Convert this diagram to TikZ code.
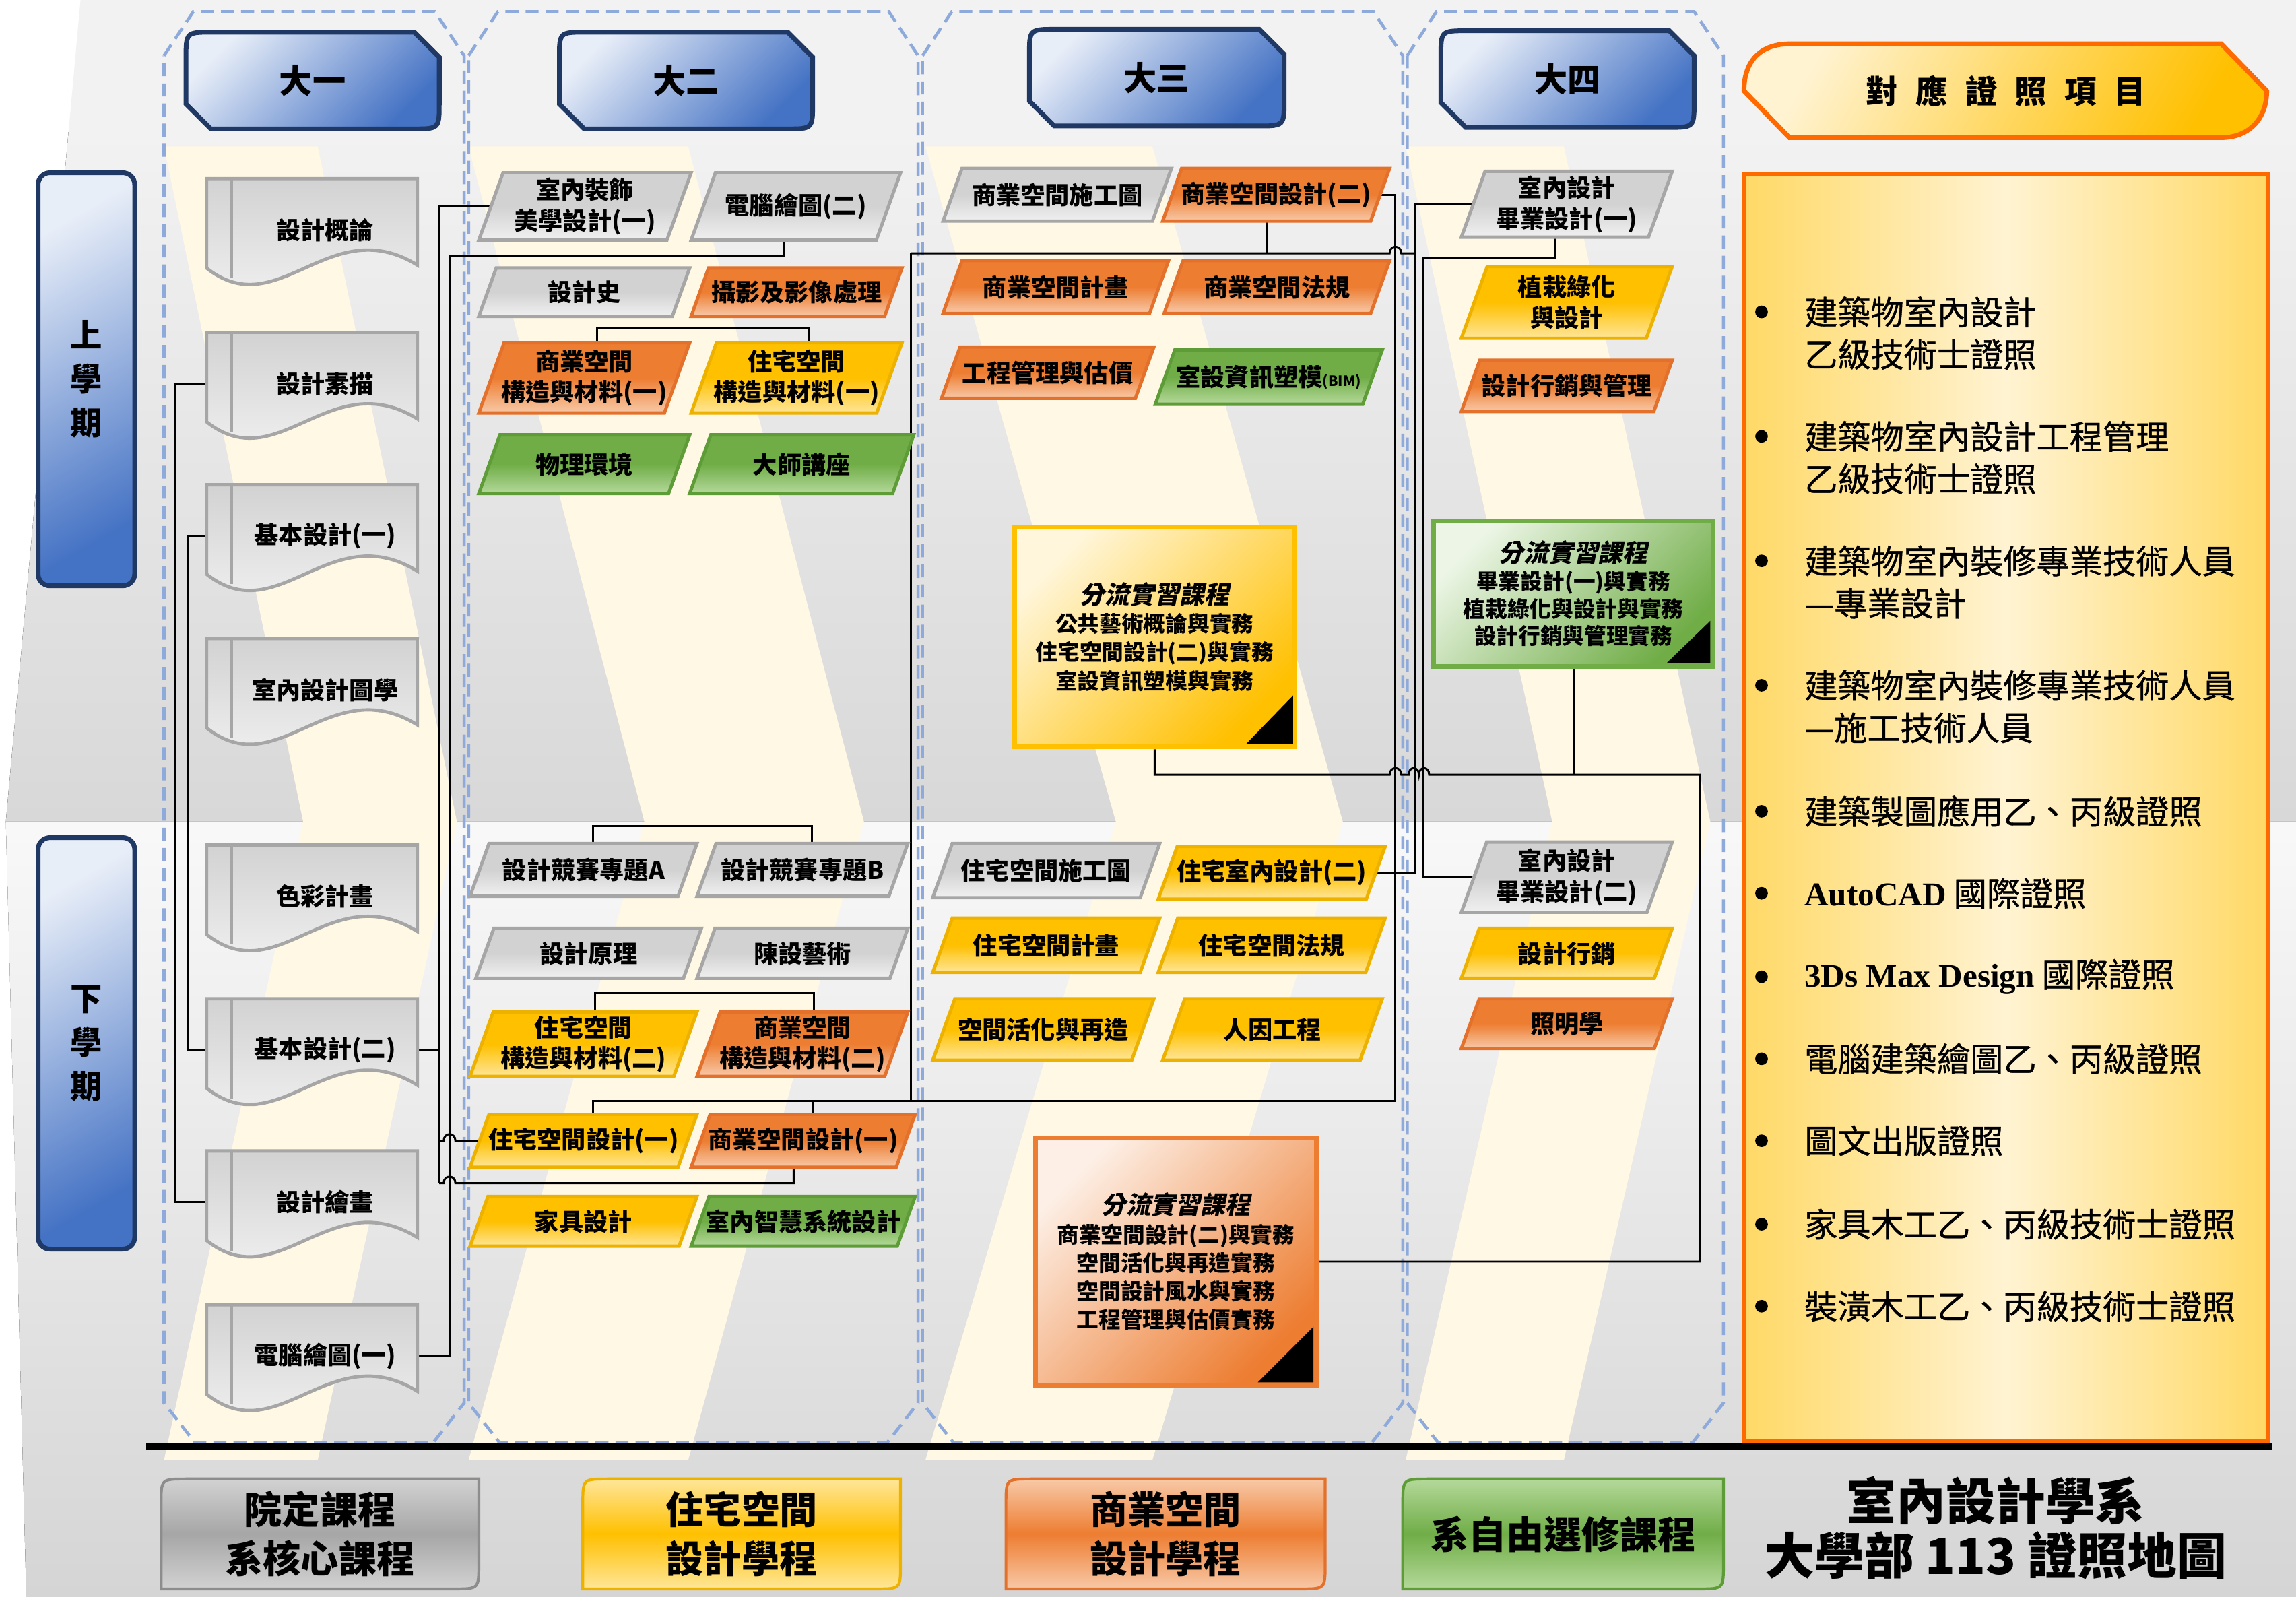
\documentclass[tikz,border=0pt]{standalone}
\usepackage{fontspec}
\setmainfont{Noto Sans CJK TC}
\newfontfamily\cjkit[FakeSlant=0.2]{Noto Sans CJK TC}
\newfontfamily\certfont[FakeBold=0.8]{Noto Sans CJK TC}
\newfontfamily\lser{Liberation Serif}
\usetikzlibrary{calc}
\pgfdeclarelayer{bgl}
\pgfdeclarelayer{conl}
\pgfsetlayers{bgl,conl,main}
\def\U{0.021741cm}
\definecolor{hblue}{HTML}{4472C4}
\definecolor{hlight}{HTML}{E8EEF8}
\definecolor{hborder}{HTML}{1F3864}
\definecolor{dashc}{HTML}{8EAADB}
\definecolor{gbase}{HTML}{D2D2D2}
\definecolor{glight}{HTML}{F0F0F0}
\definecolor{gborder}{HTML}{A6A6A6}
\definecolor{obase}{HTML}{ED7D31}
\definecolor{olight}{HTML}{F8C9A8}
\definecolor{oborder}{HTML}{E4712B}
\definecolor{ybase}{HTML}{FFC000}
\definecolor{ylight}{HTML}{FFE699}
\definecolor{yborder}{HTML}{EDB200}
\definecolor{grbase}{HTML}{70AD47}
\definecolor{grlight}{HTML}{B4D99A}
\definecolor{grborder}{HTML}{5E9C38}
\definecolor{pale}{HTML}{FFF8E4}
\definecolor{bgg}{HTML}{F2F2F2}
\definecolor{bgdark}{HTML}{D8D8D8}
\definecolor{certor}{HTML}{FF6A00}
\definecolor{panely}{HTML}{FFD966}
\definecolor{panell}{HTML}{FFF3D2}

\newcommand\pbox[7]{%
  \pgfmathsetmacro\pslant{0.36*(#6-#5)}%
  \path[#2] (#3,#6) -- ({#3+\pslant},#5) -- (#4,#5) -- ({#4-\pslant},#6) -- cycle;
  \node[btext, minimum width={(#4-#3-\pslant)*\U}, minimum height={(#6-#5)*\U}] (#1) at ({(#3+#4)/2},{(#5+#6)/2}) {#7};
  \coordinate (#1-t) at ({(#3+#4+\pslant)/2},#5);
  \coordinate (#1-b) at ({(#3+#4-\pslant)/2},#6);
}
\newcommand\docbox[3]{%
  \path[dbox] (141,#2) -- (285,#2) -- (285,{#2+59}) .. controls (225,{#2+22}) and (190,{#2+100}) .. (141,{#2+61}) -- cycle;
  \draw[gborder, line width=1.4pt] (158,#2) -- (158,{#2+68});
  \node[btext, minimum width={126*\U}, minimum height={40*\U}] (#1) at (222,{#2+35}) {#3};
}
\newcommand\hdr[6]{%
  \path[hstyle] (#2,{#3+18}) .. controls (#2,#3) .. ({#2+18},#3) -- ({#4-17},#3) -- (#4,{#3+17}) -- (#4,{#5-18}) .. controls (#4,#5) .. ({#4-18},#5) -- ({#2+17},#5) -- (#2,{#5-17}) -- cycle;
  \node[htext] (#1) at ({(#2+#4)/2},{(#3+#5)/2}) {#6};
}
\newcommand\lgd[5]{%
  \path[#4] (#2,1027) .. controls (#2,1010) .. ({#2+17},1010) -- (#3,1010) -- (#3,1068) .. controls (#3,1085) .. ({#3-17},1085) -- (#2,1085) -- cycle;
  \node[lgtext] (#1) at ({(#2+#3)/2},1047.5) {#5};
}
\newcommand\colo[2]{%
  \draw[dcol] (#1,38) -- ({#1+20},8) -- ({#2-20},8) -- (#2,38) -- (#2,958) -- ({#2-21},985) -- ({#1+21},985) -- (#1,958) -- cycle;
}
\newcommand\stripe[3]{%
  \fill[pale] (#1,100) -- ({#1+#2},100) -- ({#1+#2+#3},561) -- ({#1+#2},997) -- (#1,997) -- ({#1+#3},561) -- cycle;
}
\newcommand\hsp{\hspace{0.55em}}

\begin{document}
\begin{tikzpicture}[x=\U, y=-\U,
  con/.style={line width=0.85pt, draw=black},
  gbox/.style={draw=gborder, line width=1.4pt, top color=gbase, bottom color=glight, middle color=gbase},
  obox/.style={draw=oborder, line width=1.4pt, top color=obase, bottom color=olight, middle color=obase},
  ybox/.style={draw=yborder, line width=1.4pt, top color=ybase, bottom color=ylight, middle color=ybase},
  grbox/.style={draw=grborder, line width=1.4pt, top color=grbase, bottom color=grlight, middle color=grbase},
  dbox/.style={draw=gborder, line width=1.4pt, top color=gbase, bottom color=glight!60!white},
  btext/.style={inner sep=0pt, align=center, font=\bfseries\fontsize{10.3}{13}\selectfont},
  hstyle/.style={draw=hborder, line width=2pt, left color=hlight, right color=hblue, shading angle=45},
  htext/.style={inner sep=0pt, font=\bfseries\fontsize{14}{16}\selectfont},
  semb/.style={draw=hborder, line width=2pt, rounded corners=5pt, left color=hlight, right color=hblue, shading angle=30, inner sep=0pt, align=center, font=\bfseries\fontsize{13.5}{18.5}\selectfont},
  dcol/.style={draw=dashc, line width=1.3pt, dash pattern=on 5.5pt off 3pt},
  fltext/.style={inner sep=0pt, align=center, font=\bfseries\fontsize{9.3}{12}\selectfont},
  tri/.style={fill=black},
  cert/.style={anchor=west, inner sep=0pt, font=\certfont\fontsize{14}{16}\selectfont},
  lgtext/.style={inner sep=0pt, align=center, font=\bfseries\fontsize{16}{21}\selectfont},
]
\useasboundingbox (0,0) rectangle (1568,1090.56);

% ---------------- background ----------------
\begin{pgfonlayer}{bgl}
\fill[white] (0,0) rectangle (1568,1090.56);
\fill[bgg] (55,0) -- (1568,0) -- (1568,1090.56) -- (18,1090.56) -- (4,561) -- cycle;
\begin{scope}
  \clip (55,0) -- (1568,0) -- (1568,561) -- (4,561) -- cycle;
  \fill[top color=bgg, bottom color=bgdark] (0,90) rectangle (1568,561);
\end{scope}
\begin{scope}
  \clip (4,561) -- (1568,561) -- (1568,1090.56) -- (18,1090.56) -- cycle;
  \fill[top color=bgg!50!white, bottom color=bgg!88!black] (0,561) rectangle (1568,1090.56);
\end{scope}
\stripe{112}{105}{95}
\stripe{320}{150}{120}
\stripe{632}{155}{130}
\stripe{960}{108}{100}
\colo{112}{317}
\colo{320}{627}
\colo{630}{958}
\colo{961}{1177}
\end{pgfonlayer}

% ---------------- headers ----------------
\hdr{h1}{127}{22}{300}{88}{大一}
\hdr{h2}{382}{22}{555}{88}{大二}
\hdr{h3}{703}{20}{877}{86}{大三}
\hdr{h4}{984}{21}{1157}{87}{大四}

\path[draw=certor, line width=2pt, left color=panell, right color=ybase, shading angle=60]
  (1191,62) .. controls (1191,40) and (1204,30) .. (1222,30) -- (1517,30) -- (1548,62)
  .. controls (1548,82) and (1535,94) .. (1517,94) -- (1222,94) -- cycle;
\node[inner sep=0pt, font=\bfseries\fontsize{13.5}{16}\selectfont] (certh) at (1370,62) {對\hsp 應\hsp 證\hsp 照\hsp 項\hsp 目};

% semester labels
\node[semb, minimum width={66*\U}, minimum height={282*\U}] (sem1) at (59,259) {上\\學\\期};
\node[semb, minimum width={66*\U}, minimum height={281*\U}] (sem2) at (59,712.5) {下\\學\\期};

% ---------------- column 1 ----------------
\docbox{d1}{122}{設計概論}
\docbox{d2}{227}{設計素描}
\docbox{d3}{331}{基本設計(一)}
\docbox{d4}{436}{室內設計圖學}
\docbox{d5}{577}{色彩計畫}
\docbox{d6}{682}{基本設計(二)}
\docbox{d7}{786}{設計繪畫}
\docbox{d8}{891}{電腦繪圖(一)}

% ---------------- column 2 ----------------
\pbox{c2a}{gbox}{327}{472}{118}{164}{室內裝飾\\美學設計(一)}
\pbox{c2b}{gbox}{472}{615}{118}{164}{電腦繪圖(二)}
\pbox{c2c}{gbox}{327}{471}{183}{216}{設計史}
\pbox{c2d}{obox}{472}{616}{183}{216}{攝影及影像處理}
\pbox{c2e}{obox}{327}{471}{234}{282}{商業空間\\構造與材料(一)}
\pbox{c2f}{ybox}{472}{616}{234}{282}{住宅空間\\構造與材料(一)}
\pbox{c2g}{grbox}{327}{471}{297}{337}{物理環境}
\pbox{c2h}{grbox}{471}{624}{297}{337}{大師講座}
\pbox{c2i}{gbox}{321}{476}{576}{612}{設計競賽專題A}
\pbox{c2j}{gbox}{476}{620}{576}{612}{設計競賽專題B}
\pbox{c2k}{gbox}{325}{479}{634}{668}{設計原理}
\pbox{c2l}{gbox}{476}{620}{634}{668}{陳設藝術}
\pbox{c2m}{ybox}{321}{476}{691}{735}{住宅空間\\構造與材料(二)}
\pbox{c2n}{obox}{476}{620}{691}{735}{商業空間\\構造與材料(二)}
\pbox{c2o}{ybox}{321}{476}{761}{797}{住宅空間設計(一)}
\pbox{c2p}{obox}{472}{625}{761}{797}{商業空間設計(一)}
\pbox{c2q}{ybox}{321}{476}{817}{851}{家具設計}
\pbox{c2r}{grbox}{472}{625}{817}{851}{室內智慧系統設計}

% ---------------- column 3 ----------------
\pbox{c3a}{gbox}{644}{800}{115}{151}{商業空間施工圖}
\pbox{c3b}{obox}{794}{949}{115}{151}{商業空間設計(二)}
\pbox{c3c}{obox}{644}{798}{178}{214}{商業空間計畫}
\pbox{c3d}{obox}{795}{949}{178}{214}{商業空間法規}
\pbox{c3e}{obox}{643}{788}{237}{272}{工程管理與估價}
\pbox{c3f}{grbox}{789}{944}{239}{276}{室設資訊塑模{\fontsize{6}{7}\selectfont(BIM)}}
\pbox{c3g}{gbox}{637}{792}{576}{613}{住宅空間施工圖}
\pbox{c3h}{ybox}{791}{946}{578}{614}{住宅室內設計(二)}
\pbox{c3i}{ybox}{637}{792}{627}{664}{住宅空間計畫}
\pbox{c3j}{ybox}{791}{946}{627}{664}{住宅空間法規}
\pbox{c3k}{ybox}{637}{788}{682}{724}{空間活化與再造}
\pbox{c3l}{ybox}{794}{944}{682}{724}{人因工程}

\node[fltext, draw=ybase, line width=2pt, left color=ylight!35!white, right color=ybase, shading angle=45,
  minimum width={191*\U}, minimum height={150*\U}] (yf) at (788.5,435)
  {\underline{\cjkit\bfseries\fontsize{10.5}{12}\selectfont 分流實習課程}\\公共藝術概論與實務\\住宅空間設計(二)與實務\\室設資訊塑模與實務};
\fill[tri] (851,508) -- (883,475) -- (883,508) -- cycle;

\node[fltext, draw=obase, line width=2pt, left color=olight!30!white, right color=obase, shading angle=45,
  minimum width={192*\U}, minimum height={169*\U}] (of) at (803,861.5)
  {\underline{\cjkit\bfseries\fontsize{10.5}{12}\selectfont 分流實習課程}\\商業空間設計(二)與實務\\空間活化與再造實務\\空間設計風水與實務\\工程管理與估價實務};
\fill[tri] (859,944) -- (897,906) -- (897,944) -- cycle;

% ---------------- column 4 ----------------
\pbox{c4a}{gbox}{998}{1142}{117}{162}{室內設計\\畢業設計(一)}
\pbox{c4b}{ybox}{998}{1142}{182}{231}{植栽綠化\\與設計}
\pbox{c4c}{obox}{998}{1142}{246}{281}{設計行銷與管理}
\pbox{c4d}{gbox}{998}{1142}{575}{623}{室內設計\\畢業設計(二)}
\pbox{c4e}{ybox}{998}{1142}{634}{668}{設計行銷}
\pbox{c4f}{obox}{998}{1142}{682}{716}{照明學}

\node[fltext, draw=grbase, line width=2pt, left color=grlight!25!white, right color=grbase, shading angle=45,
  minimum width={191*\U}, minimum height={99*\U}, font=\bfseries\fontsize{9.3}{11.6}\selectfont] (gf) at (1074.5,405.5)
  {\underline{\cjkit\bfseries\fontsize{10.5}{12}\selectfont 分流實習課程}\\畢業設計(一)與實務\\植栽綠化與設計與實務\\設計行銷與管理實務};
\fill[tri] (1138,453) -- (1168,424) -- (1168,453) -- cycle;

% ---------------- certificate panel ----------------
\node[draw=certor, line width=2pt, left color=panely, right color=panely, middle color=panell,
  minimum width={358*\U}, minimum height={865*\U}, inner sep=0pt] (panel) at (1370,551.5) {};
\foreach \yy in {213,298,383,468,554,610,667,723,779,836,892}
  \fill (1203,\yy) circle[radius=4.3];
\node[cert] (k1a) at (1232,213) {建築物室內設計};
\node[cert] (k1b) at (1232,242) {乙級技術士證照};
\node[cert] (k2a) at (1232,298) {建築物室內設計工程管理};
\node[cert] (k2b) at (1232,327) {乙級技術士證照};
\node[cert] (k3a) at (1232,383) {建築物室內裝修專業技術人員};
\node[cert] (k3b) at (1232,412) {—專業設計};
\node[cert] (k4a) at (1232,468) {建築物室內裝修專業技術人員};
\node[cert] (k4b) at (1232,497) {—施工技術人員};
\node[cert] (k5) at (1232,554) {建築製圖應用乙、丙級證照};
\node[cert] (k6) at (1232,610) {{\lser\bfseries AutoCAD} 國際證照};
\node[cert] (k7) at (1232,667) {{\lser\bfseries 3Ds Max Design} 國際證照};
\node[cert] (k8) at (1232,723) {電腦建築繪圖乙、丙級證照};
\node[cert] (k9) at (1232,779) {圖文出版證照};
\node[cert] (k10) at (1232,836) {家具木工乙、丙級技術士證照};
\node[cert] (k11) at (1232,892) {裝潢木工乙、丙級技術士證照};

% ---------------- legend ----------------
\draw[line width=3pt] (100,988) -- (1552,988);
\lgd{lg1}{110}{327}{draw=gborder!85!black, line width=1.2pt, top color=gbase, bottom color=gbase, middle color=gborder}{院定課程\\系核心課程}
\lgd{lg2}{398}{615}{draw=yborder, line width=1.2pt, top color=ylight, bottom color=ylight, middle color=ybase}{住宅空間\\設計學程}
\lgd{lg3}{687}{905}{draw=oborder, line width=1.2pt, top color=olight, bottom color=olight, middle color=obase}{商業空間\\設計學程}
\lgd{lg4}{958}{1177}{draw=grborder, line width=1.2pt, top color=grlight, bottom color=grlight, middle color=grbase}{系自由選修課程}
\node[inner sep=0pt, align=center, font=\bfseries\fontsize{21}{23}\selectfont] (title) at (1363,1043.5) {室內設計學系\\大學部 113 證照地圖};

% ---------------- connectors ----------------
\coordinate (xa) at (300,0);
\coordinate (xb) at (307,0);
\coordinate (xc) at (622,0);
\coordinate (xd) at (953,0);
\coordinate (xe) at (966,0);
\coordinate (xf) at (972,0);
\coordinate (xg) at (1161,0);
\coordinate (y173) at (0,173);
\coordinate (y175) at (0,175);
\coordinate (y176) at (0,176);
\coordinate (y529) at (0,529);
\coordinate (y752) at (0,752);
\coordinate (y808) at (0,808);
\begin{pgfonlayer}{conl}
\draw[con] (d2.west) -- ++(-39,0) |- (d7.west);
\draw[con] (d3.west) -- ++(-30,0) |- (d6.west);
\draw[con] (c2a.west) -| (xa |- y808);
\draw[con] (d6.east) -- (d6.east -| xa);
\draw[con] (c2o.west -| xa) -- ($(c2o.west -| xb)+(-4,0)$) .. controls +(0,-6) and +(0,-6) .. ($(c2o.west -| xb)+(4,0)$) -- (c2o.west);
\draw[con] (c2p-b) -- (c2p-b |- y808) -- ($(xb |- y808)+(4,0)$) .. controls +(0,-6) and +(0,-6) .. ($(xb |- y808)+(-4,0)$) -- (xa |- y808);
\draw[con] (c2b-b) -- (c2b-b |- y175) -| (xb |- d8.east) -- (d8.east);
\draw[con] (c2e-t) -- ++(0,-10) -| (c2f-t);
\draw[con] (c2i-t) -- ++(0,-12) -| (c2j-t);
\draw[con] (c2m-t) -- ++(0,-13) -| (c2n-t);
\draw[con] (c2o-t) |- (xd |- y752);
\draw[con] (c2p-t) -- (c2p-t |- y752);
\draw[con] (xc |- y173) -- (xc |- y752);
\draw[con] (xc |- y173) -- ($(xd |- y173)+(-4,0)$) .. controls +(0,-6) and +(0,-6) .. ($(xd |- y173)+(4,0)$) -- (xe |- y173);
\draw[con] (c3b-b) -- (c3b-b |- y173);
\draw[con] (c3b.east) -| (xd |- y752);
\draw[con] (c4a.west) -| (xe |- c3h.east) -- (c3h.east);
\draw[con] (c4a-b) -- (c4a-b |- y176) -| (xf |- c4d.west) -- (c4d.west);
\draw[con] (yf.south) -- (yf.south |- y529) -- ($(xd |- y529)+(-4,0)$) .. controls +(0,-6) and +(0,-6) .. ($(xd |- y529)+(4,0)$)
  -- ($(xe |- y529)+(-4,0)$) .. controls +(0,-6) and +(0,-6) .. ($(xe |- y529)+(3,0)$)
  .. controls +(0,-6) and +(0,-6) .. ($(xf |- y529)+(4,0)$) -- (xg |- y529) |- (of.east);
\draw[con] (gf.south) -- (gf.south |- y529);
\end{pgfonlayer}
\end{tikzpicture}
\end{document}
